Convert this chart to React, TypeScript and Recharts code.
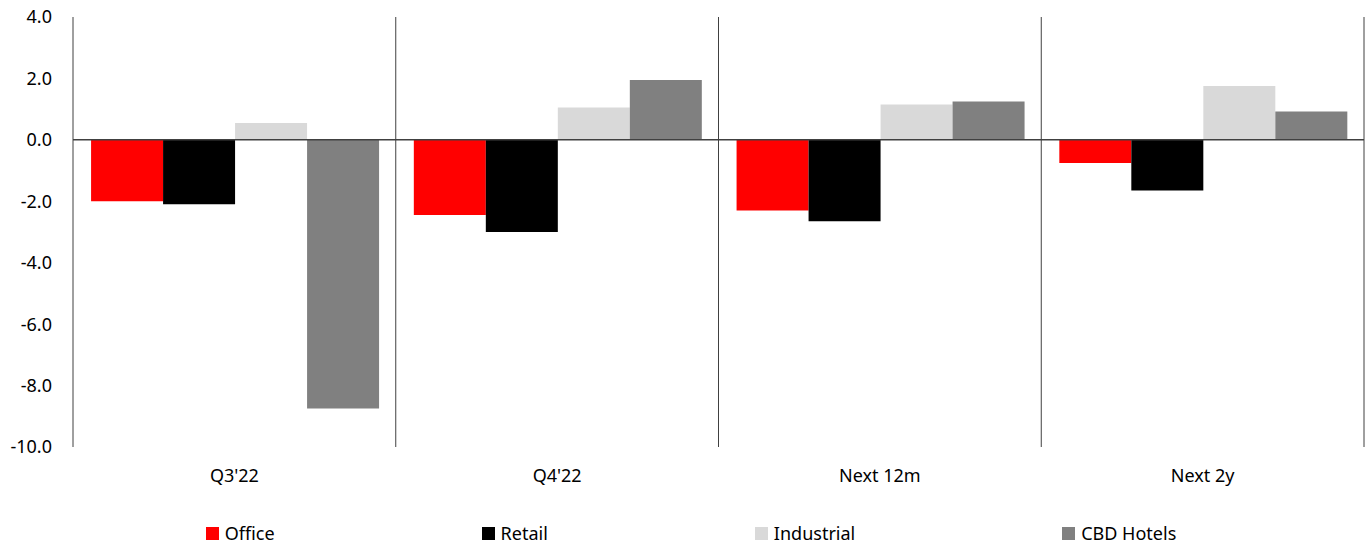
import { BarChart, Bar, XAxis, YAxis, CartesianGrid, ReferenceLine, Legend } from 'recharts'

const categories = ["Q3'22", "Q4'22", 'Next 12m', 'Next 2y']
const office = [-2.0, -2.45, -2.3, -0.75]
const retail = [-2.1, -3.0, -2.65, -1.65]
const industrial = [0.55, 1.05, 1.15, 1.75]
const cbdHotels = [-8.75, 1.95, 1.25, 0.92]
const yTicks = [-10, -8, -6, -4, -2, 0, 2, 4]

const series = [
    { key: 'office', name: 'Office', color: '#FF0000' },
    { key: 'retail', name: 'Retail', color: '#000000' },
    { key: 'industrial', name: 'Industrial', color: '#D9D9D9' },
    { key: 'cbdHotels', name: 'CBD Hotels', color: '#808080' },
]

const data = categories.map((name, i) => ({
    name,
    office: office[i],
    retail: retail[i],
    industrial: industrial[i],
    cbdHotels: cbdHotels[i],
}))

const FONT = '"Noto Sans", sans-serif'

const LegendRow = () => (
    <div style={{ display: 'flex', justifyContent: 'center', gap: 207, paddingTop: 36, paddingLeft: 18, fontFamily: FONT, fontSize: 18, color: '#000' }}>
        {series.map(s => (
            <div key={s.key} style={{ display: 'flex', alignItems: 'center' }}>
                <span style={{ width: 13, height: 13, background: s.color, marginRight: 6, display: 'inline-block' }} />
                <span style={{ lineHeight: '20px' }}>{s.name}</span>
            </div>
        ))}
    </div>
)

export default function App() {
    return (
        <div style={{ position: 'absolute', left: 0, top: 0, background: '#fff' }}>
            <BarChart
                width={1370}
                height={549}
                data={data}
                margin={{ top: 17, right: 6, left: 0, bottom: 0 }}
                barCategoryGap="5.6%"
                barGap={0}
            >
                <CartesianGrid
                    horizontal={false}
                    stroke="#404040"
                    strokeWidth={1}
                    verticalCoordinatesGenerator={({ offset }: any) => {
                        const w = offset.width / categories.length
                        return categories.map((_, i) => offset.left + w * (i + 1))
                    }}
                />
                <XAxis
                    dataKey="name"
                    axisLine={false}
                    tickLine={false}
                    height={40}
                    tickMargin={16}
                    tick={{ fill: '#000', fontSize: 18, fontFamily: FONT }}
                />
                <YAxis
                    domain={[-10, 4]}
                    ticks={yTicks}
                    width={73}
                    interval={0}
                    axisLine={{ stroke: '#404040' }}
                    tickLine={false}
                    tickMargin={15}
                    tick={{ fill: '#000', fontSize: 18, fontFamily: FONT }}
                    tickFormatter={(v: number) => v.toFixed(1)}
                />
                <ReferenceLine y={0} stroke="#404040" strokeWidth={1.5} />
                {series.map(s => (
                    <Bar key={s.key} dataKey={s.key} name={s.name} fill={s.color} isAnimationActive={false} />
                ))}
                <Legend verticalAlign="bottom" height={62} content={<LegendRow />} />
            </BarChart>
        </div>
    )
}
